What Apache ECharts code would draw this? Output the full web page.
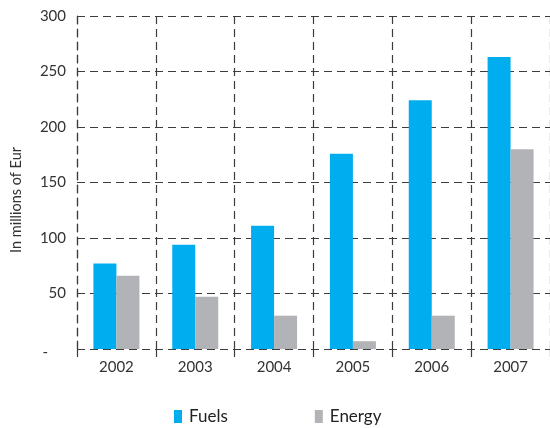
<!DOCTYPE html>
<html>
<head>
<meta charset="utf-8">
<script src="https://cdn.jsdelivr.net/npm/echarts@6/dist/echarts.min.js"></script>
<style>
  html, body { margin: 0; padding: 0; background: #fff; }
  #chart { width: 550px; height: 428px; }
</style>
</head>
<body>
<div id="chart"></div>
<script>
// values (millions of Eur)
const years = ["2002", "2003", "2004", "2005", "2006", "2007"];
const fuels = [77, 94, 111, 176, 224, 263];
const energy = [66, 47, 30, 7, 30, 180];

const gridLine = { color: "#3c3c3c", width: 1.2, type: [8, 5] };
const font = "Lato, 'Open Sans', sans-serif";

const chart = echarts.init(document.getElementById("chart"));
chart.setOption({
  animation: false,
  textStyle: { fontFamily: font },
  grid: { left: 77, top: 16, width: 477, height: 333 },
  graphic: [
    {
      type: "text",
      x: 16,
      y: 200,
      rotation: Math.PI / 2,
      style: {
        text: "In millions of Eur",
        fontSize: 14.5,
        fontFamily: font,
        fill: "#333",
        align: "center",
        verticalAlign: "middle"
      }
    }
  ],
  legend: {
    top: 403,
    left: 169,
    itemWidth: 8,
    itemHeight: 13,
    itemGap: 87,
    icon: "rect",
    textStyle: { fontSize: 17, color: "#222", fontFamily: font, padding: [0, 0, 0, 2] },
    data: ["Fuels", "Energy"]
  },
  xAxis: {
    type: "category",
    data: years,
    axisLine: { show: false },
    axisTick: { show: true, length: 10, lineStyle: gridLine },
    splitLine: { show: true, lineStyle: gridLine },
    axisLabel: { color: "#333", fontSize: 15, margin: 11, fontFamily: font }
  },
  yAxis: {
    type: "value",
    min: 0,
    max: 300,
    interval: 50,
    axisLine: { show: true, lineStyle: gridLine },
    axisTick: { show: false },
    splitLine: { show: true, lineStyle: gridLine },
    axisLabel: {
      color: "#333",
      fontSize: 15,
      margin: 11,
      fontFamily: font,
      formatter: v => (v === 0 ? "{d|-}" : String(v)),
      rich: { d: { fontSize: 15, color: "#333", padding: [6, 18, 0, 0] } }
    }
  },
  series: [
    {
      name: "Fuels",
      type: "bar",
      data: fuels,
      barWidth: 23,
      barGap: "0%",
      itemStyle: { color: "#00aeef" }
    },
    {
      name: "Energy",
      type: "bar",
      data: energy,
      barWidth: 23,
      itemStyle: { color: "#b1b3b6" }
    }
  ]
});
</script>
</body>
</html>
